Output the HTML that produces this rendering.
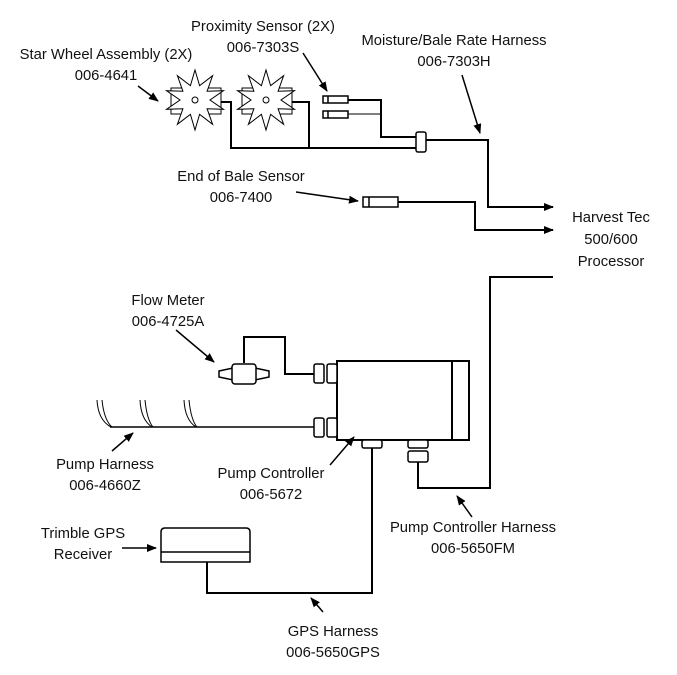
<!DOCTYPE html>
<html><head><meta charset="utf-8"><style>
body{margin:0;background:#fff}
svg text{font-family:"Liberation Sans",sans-serif;font-size:14.8px;fill:#111;text-anchor:middle}
</style></head><body>
<svg width="677" height="670" viewBox="0 0 677 670" xmlns="http://www.w3.org/2000/svg">
<defs><marker id="a" markerWidth="10" markerHeight="8" refX="9" refY="4" orient="auto" markerUnits="userSpaceOnUse"><path d="M0,0 L10,4 L0,8 z" fill="#000"/></marker></defs>
<g fill="none" stroke="#000" stroke-width="2">
<polyline points="221,102 231,102 231,148 417,148"/>
<polyline points="292,102 309,102 309,148"/>
<polyline points="348,100 381,100 381,137 417,137"/>
<polyline points="348,114 381,114" stroke-width="1"/>
<polyline points="426,140 488,140 488,207 553,207" marker-end="url(#a)"/>
<polyline points="398,202 475,202 475,230 553,230" marker-end="url(#a)"/>
<polyline points="553,277 490,277 490,488 418,488 418,462"/>
<polyline points="244,363 244,337 285,337 285,374 314,374"/>
<polyline points="110,427 314,427" stroke-width="1.5"/>
<polyline points="372,448 372,593 207,593 207,562"/>
</g>
<g stroke="#000" stroke-width="1" fill="#fff">
<rect x="171" y="88" width="50" height="26"/>
<rect x="242" y="88" width="50" height="26"/>
</g>
<g stroke="#000" stroke-width="1" fill="#fff" id="stars"></g>
<script>
(function(){var g=document.getElementById('stars');[[195,100],[266,100]].forEach(function(c){var p=[];for(var i=0;i<20;i++){var r=i%2?15:30,t=-Math.PI/2+i*Math.PI/10;p.push((c[0]+r*Math.cos(t)).toFixed(1)+','+(c[1]+r*Math.sin(t)).toFixed(1));}var e=document.createElementNS('http://www.w3.org/2000/svg','polygon');e.setAttribute('points',p.join(' '));g.appendChild(e);var ci=document.createElementNS('http://www.w3.org/2000/svg','circle');ci.setAttribute('cx',c[0]);ci.setAttribute('cy',c[1]);ci.setAttribute('r',3);g.appendChild(ci);});})();
</script>
<g stroke="#000" fill="#fff" stroke-width="1.5">
<rect x="323" y="96" width="25" height="7"/><line x1="328" y1="96" x2="328" y2="103"/>
<rect x="323" y="111" width="25" height="7"/><line x1="328" y1="111" x2="328" y2="118"/>
<rect x="416" y="132" width="10" height="20" rx="2"/>
<rect x="363" y="197" width="35" height="10"/><line x1="369" y1="197" x2="369" y2="207"/>
<rect x="337" y="361" width="132" height="79" stroke-width="2"/>
<line x1="452" y1="361" x2="452" y2="440" stroke-width="2"/>
<rect x="314" y="364" width="10" height="19" rx="2"/><rect x="327" y="364" width="10" height="19" rx="2"/>
<rect x="314" y="418" width="10" height="19" rx="2"/><rect x="327" y="418" width="10" height="19" rx="2"/>
<rect x="362" y="440" width="20" height="8" rx="2"/>
<rect x="408" y="440" width="20" height="8" rx="2"/>
<rect x="408" y="451" width="20" height="11" rx="2"/>
<path d="M233,368 L219,371 L219,377 L233,380 Z"/>
<path d="M255,368 L269,371 L269,377 L255,380 Z"/>
<rect x="232" y="364" width="24" height="20" rx="3"/>
<path d="M161,562 L161,532 Q161,528 165,528 L246,528 Q250,528 250,532 L250,562 Z"/>
<line x1="161" y1="552" x2="250" y2="552"/>
</g>
<g fill="none" stroke="#000" stroke-width="1">
<path d="M97,400 Q98,420 111,427"/><path d="M102,400 Q104,420 112,427"/>
<path d="M140,400 Q141,420 152,427"/><path d="M145,400 Q147,420 153,427"/>
<path d="M184,400 Q185,420 196,427"/><path d="M189,400 Q191,420 197,427"/>
</g>
<g stroke="#000" stroke-width="1.5" fill="none">
<line x1="138" y1="86" x2="158" y2="101" marker-end="url(#a)"/>
<line x1="303" y1="53" x2="327" y2="91" marker-end="url(#a)"/>
<line x1="462" y1="75" x2="480" y2="133" marker-end="url(#a)"/>
<line x1="296" y1="192" x2="358" y2="201" marker-end="url(#a)"/>
<line x1="176" y1="330" x2="214" y2="362" marker-end="url(#a)"/>
<line x1="112" y1="451" x2="133" y2="433" marker-end="url(#a)"/>
<line x1="330" y1="465" x2="354" y2="437" marker-end="url(#a)"/>
<line x1="472" y1="517" x2="457" y2="496" marker-end="url(#a)"/>
<line x1="122" y1="548" x2="156" y2="548" marker-end="url(#a)"/>
<line x1="323" y1="612" x2="311" y2="598" marker-end="url(#a)"/>
</g>
<text x="106" y="59">Star Wheel Assembly (2X)</text><text x="106" y="80">006-4641</text>
<text x="263" y="31">Proximity Sensor (2X)</text><text x="263" y="52">006-7303S</text>
<text x="454" y="45">Moisture/Bale Rate Harness</text><text x="454" y="66">006-7303H</text>
<text x="241" y="181">End of Bale Sensor</text><text x="241" y="202">006-7400</text>
<text x="611" y="222">Harvest Tec</text><text x="611" y="244">500/600</text><text x="611" y="266">Processor</text>
<text x="168" y="305">Flow Meter</text><text x="168" y="326">006-4725A</text>
<text x="105" y="469">Pump Harness</text><text x="105" y="490">006-4660Z</text>
<text x="271" y="478">Pump Controller</text><text x="271" y="499">006-5672</text>
<text x="83" y="538">Trimble GPS</text><text x="83" y="559">Receiver</text>
<text x="473" y="532">Pump Controller Harness</text><text x="473" y="553">006-5650FM</text>
<text x="333" y="636">GPS Harness</text><text x="333" y="657">006-5650GPS</text>
</svg>
</body></html>
